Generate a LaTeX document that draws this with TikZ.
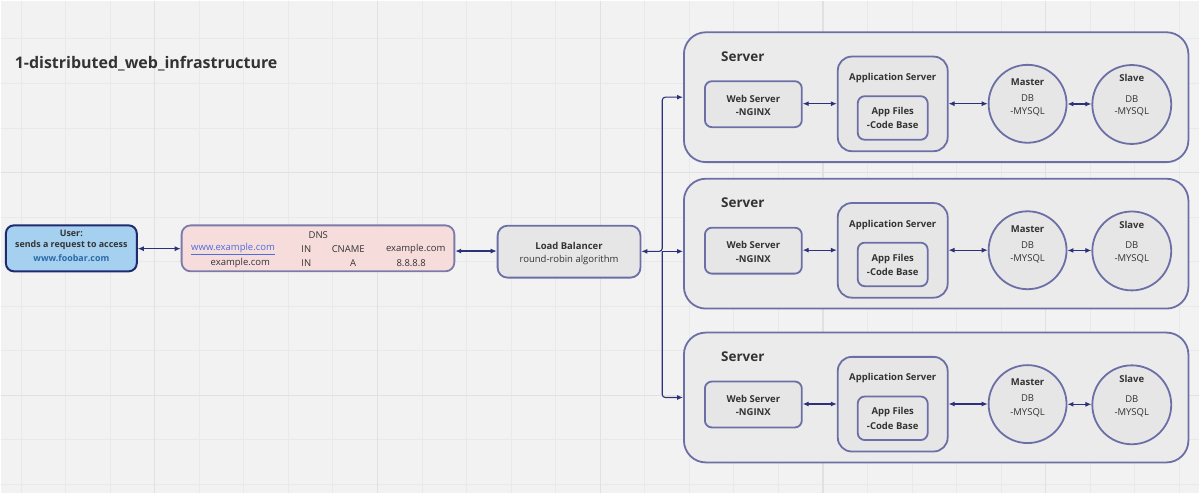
\documentclass[tikz,border=0pt]{standalone}
\usepackage{fontspec}
\setmainfont{Open Sans}
\usetikzlibrary{arrows.meta,calc}

\definecolor{bg}{HTML}{F2F2F2}
\definecolor{gridminor}{HTML}{E9E9E9}
\definecolor{gridmajor}{HTML}{E1E1E1}
\definecolor{txt}{HTML}{333333}
\definecolor{edge}{HTML}{6C6FA6}
\definecolor{arrowc}{HTML}{2C3179}
\definecolor{boxfill}{HTML}{E6E6E6}
\definecolor{srvfill}{HTML}{EBEBEB}
\definecolor{userfill}{HTML}{A5D0F0}
\definecolor{userline}{HTML}{1F2A70}
\definecolor{userlink}{HTML}{2A6AA8}
\definecolor{dnsfill}{HTML}{F7DCDC}
\definecolor{dnsline}{HTML}{7C7AAA}
\definecolor{linkc}{HTML}{4A6EE0}

\tikzset{
  box/.style={draw=edge, line width=1.8pt, fill=boxfill, inner sep=0pt, rounded corners=7pt},
  conn/.style={draw=arrowc, line width=1.1pt,
    arrows={Latex[length=6pt,width=5pt]-Latex[length=6pt,width=5pt]}},
  oneway/.style={draw=arrowc, line width=1.1pt, arrows={-Latex[length=6pt,width=5pt]}},
  txtb/.style={text=txt, inner sep=0pt, font=\fontsize{9.5}{11}\selectfont\bfseries},
  txtr/.style={text=txt, inner sep=0pt, font=\fontsize{9.5}{11}\selectfont},
  usertxt/.style={text=txt, inner sep=0pt, font=\fontsize{8.9}{11}\selectfont\bfseries},
}

\begin{document}
\begin{tikzpicture}[x=1pt,y=-1pt]
% canvas and grid
\fill[bg] (0,0) rectangle (1200,493);
\foreach \k in {0,...,26} {
  \draw[gridminor, line width=0.8pt] (20.4+44.6*\k,0) -- (20.4+44.6*\k,493);
}
\foreach \k in {0,...,10} {
  \draw[gridminor, line width=0.8pt] (0,38.3+44.6*\k) -- (1200,38.3+44.6*\k);
}
\foreach \k in {0,...,4} {
  \draw[gridmajor, line width=1.2pt] (154.2+223*\k,0) -- (154.2+223*\k,493);
}
\foreach \k in {0,1} {
  \draw[gridmajor, line width=1.2pt] (0,172.1+223*\k) -- (1200,172.1+223*\k);
}
\useasboundingbox (0,0) rectangle (1200,493);

% title
\node[anchor=west, text=txt, inner sep=0pt, font=\fontsize{16}{18}\selectfont\bfseries] (title) at (14,63) {1-distributed\_web\_infrastructure};

% user
\node[box, fill=userfill, draw=userline, line width=2pt, rounded corners=8pt,
      minimum width=131pt, minimum height=46pt] (user) at (70.8,248) {};
\node[usertxt] (userA) at (70.8,233.5) {User:};
\node[usertxt] (userB) at (70.8,245.3) {sends a request to access};
\node[usertxt, text=userlink] (userC) at (70.8,257.7) {www.foobar.com};

% DNS
\node[box, fill=dnsfill, draw=dnsline, rounded corners=9pt,
      minimum width=273pt, minimum height=46pt] (dns) at (317.7,248) {};
\node[txtr] (dnsT) at (318,235) {DNS};
\node[txtr, text=linkc] (dnsA1) at (232.7,249) {\underline{www.example.com}};
\node[txtr] (dnsA2) at (306,249) {IN};
\node[txtr] (dnsA3) at (348,249) {CNAME};
\node[txtr] (dnsA4) at (415.5,249) {example.com};
\node[txtr] (dnsB1) at (240,262.3) {example.com};
\node[txtr] (dnsB2) at (306,262.3) {IN};
\node[txtr] (dnsB3) at (353,262.3) {A};
\node[txtr] (dnsB4) at (411,262.3) {8.8.8.8};

% load balancer
\node[box, rounded corners=10pt, minimum width=143pt, minimum height=52pt] (lb) at (569,251.3) {};
\node[txtb] (lbA) at (569,245.7) {Load Balancer};
\node[txtr] (lbB) at (569,259.3) {round-robin algorithm};

\draw[conn] (user.east |- 0,248.3) -- (dns.west |- 0,248.3);
\draw[conn] (dns.east |- 0,250.7) -- (lb.west |- 0,250.7);

% servers
\foreach \i/\t in {1/31.7, 2/178.3, 3/332.3} {
  \node[box, fill=srvfill, rounded corners=22pt, minimum width=505pt, minimum height=130pt]
    (s\i) at (936.5,\t+65) {};
  \node[text=txt, inner sep=0pt, font=\fontsize{13.5}{15}\selectfont\bfseries] (s\i lbl) at (743,\t+24.2) {Server};
  \node[box, minimum width=97pt, minimum height=46pt] (web\i) at (753.5,\t+72) {};
  \node[txtb] (web\i a) at (753.5,\t+66.3) {Web Server};
  \node[txtb] (web\i b) at (753.5,\t+80) {-NGINX};
  \node[box, rounded corners=14pt, minimum width=110pt, minimum height=94.7pt] (app\i) at (893,\t+71.7) {};
  \node[txtb] (app\i a) at (893,\t+46) {Application Server};
  \node[box, minimum width=70pt, minimum height=43.6pt] (files\i) at (893,\t+85.8) {};
  \node[txtb] (files\i a) at (893,\t+80) {App Files};
  \node[txtb] (files\i b) at (893,\t+93.2) {-Code Base};
  \node[box, circle, minimum size=78pt] (mas\i) at (1028,\t+71.6) {};
  \node[txtb] (mas\i a) at (1028,\t+50) {Master};
  \node[txtr] (mas\i b) at (1028,\t+66) {DB};
  \node[txtr] (mas\i c) at (1028,\t+80) {-MYSQL};
  \node[box, circle, minimum size=79pt] (sla\i) at (1132.3,\t+72.3) {};
  \node[txtb] (sla\i a) at (1132.3,\t+46) {Slave};
  \node[txtr] (sla\i b) at (1132.3,\t+66.6) {DB};
  \node[txtr] (sla\i c) at (1132.3,\t+80) {-MYSQL};
  \draw[conn] (web\i.east |- 0,\t+71.5) -- (app\i.west |- 0,\t+71.5);
  \draw[conn] (app\i.east |- 0,\t+71.5) -- (mas\i.west |- 0,\t+71.5);
  \draw[conn] (mas\i.east |- 0,\t+71.8) -- (sla\i.west |- 0,\t+71.8);
}

% load balancer fan-out to the servers
\coordinate (trunk) at (662.3,251);
\draw[conn, rounded corners=3pt] (lb.east |- trunk) -- (trunk) |- (s1.west);
\draw[oneway] (trunk) -- (trunk -| s2.west);
\draw[oneway, rounded corners=3pt] (trunk) |- (s3.west);
\end{tikzpicture}
\end{document}
